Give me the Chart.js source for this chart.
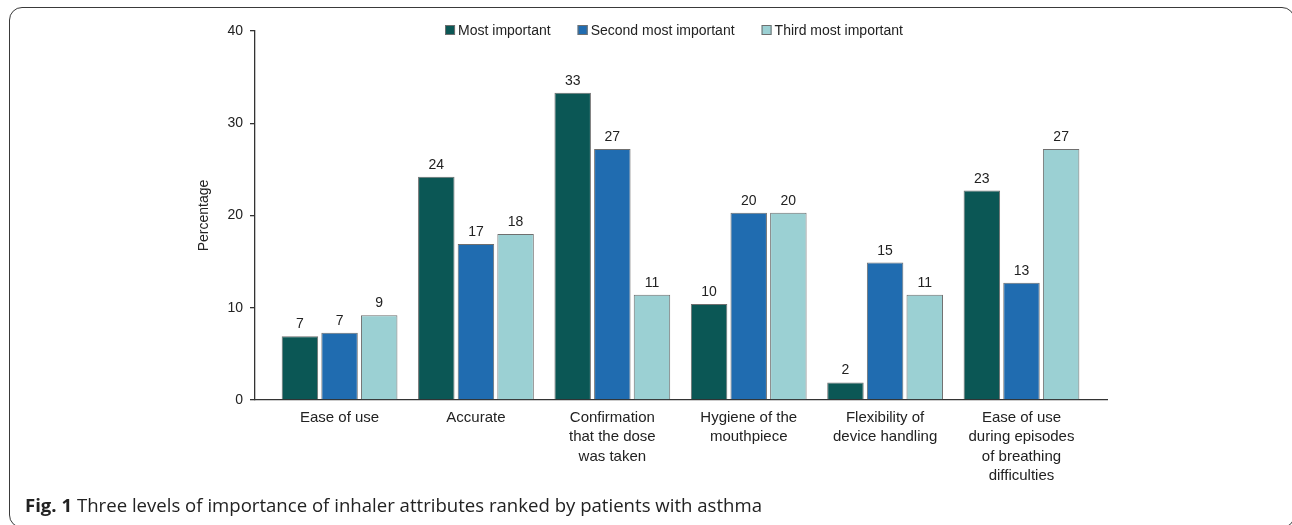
<!DOCTYPE html>
<html>
<head>
<meta charset="utf-8">
<title>Inhaler attributes</title>
<script src="https://cdn.jsdelivr.net/npm/chart.js@4"></script>
<style>
  html, body { margin: 0; padding: 0; background: #fff; }
  body { width: 1292px; height: 525px; position: relative; overflow: hidden; }
  .frame {
    position: absolute; left: 9px; top: 7px; width: 1286px; height: 521px;
    border: 1.5px solid #3a3a3a; border-radius: 13px; box-sizing: border-box;
  }
  #chart { position: absolute; left: 0; top: 0; }
  .caption {
    position: absolute; left: 25px; top: 493px;
    font-family: "Open Sans", sans-serif; font-size: 18px; color: #222;
    white-space: nowrap; transform-origin: left center;
  }
  .caption b { font-weight: 700; }
</style>
</head>
<body>
<div class="frame"></div>
<canvas id="chart" width="1292" height="495"></canvas>
<div class="caption"><b>Fig. 1</b> Three levels of importance of inhaler attributes ranked by patients with asthma</div>

<script>
// Категории (подписи оси X, по строкам)
const categories = [
  'Ease of use',
  'Accurate',
  ['Confirmation', 'that the dose', 'was taken'],
  ['Hygiene of the', 'mouthpiece'],
  ['Flexibility of', 'device handling'],
  ['Ease of use', 'during episodes', 'of breathing', 'difficulties']
];

const seriesNames = ['Most important', 'Second most important', 'Third most important'];
const seriesColors = ['#0b5755', '#206cb0', '#9bd0d3'];

// Значения, %
const mostImportant = [6.9, 24.2, 33.3, 10.4, 1.9, 22.7];
const secondImportant = [7.3, 16.9, 27.2, 20.3, 14.9, 12.7];
const thirdImportant = [9.2, 18.0, 11.4, 20.3, 11.4, 27.2];

const yTicks = [0, 10, 20, 30, 40];

Chart.defaults.font.family = '"Liberation Sans", Arial, sans-serif';
Chart.defaults.color = '#222';

/**
 * Подписи значений над столбцами
 */
const valueLabels = {
  id: 'valueLabels',
  afterDatasetsDraw(chart) {
    const ctx = chart.ctx;
    ctx.save();
    ctx.font = '14px "Liberation Sans", Arial, sans-serif';
    ctx.fillStyle = '#222';
    ctx.textAlign = 'center';
    ctx.textBaseline = 'alphabetic';
    chart.data.datasets.forEach(function(ds, di) {
      chart.getDatasetMeta(di).data.forEach(function(bar, i) {
        ctx.fillText(String(Math.round(ds.data[i].y)), bar.x, bar.y - 8);
      });
    });
    ctx.restore();
  }
};

/**
 * Легенда в одну строку над областью графика
 */
const topLegend = {
  id: 'topLegend',
  afterDraw(chart) {
    const ctx = chart.ctx;
    const box = 10, gap = 3, spacing = 27, cy = 30, cx = 674;
    ctx.save();
    ctx.font = '14px "Liberation Sans", Arial, sans-serif';
    const items = chart.data.datasets.map(function(ds) {
      return { text: ds.label, color: ds.backgroundColor, w: ctx.measureText(ds.label).width };
    });
    const total = items.reduce(function(s, it) { return s + box + gap + it.w; }, 0) + spacing * (items.length - 1);
    let x = cx - total / 2;
    ctx.textBaseline = 'middle';
    ctx.textAlign = 'left';
    items.forEach(function(it) {
      ctx.fillStyle = it.color;
      ctx.fillRect(x, cy - box / 2, box, box);
      ctx.strokeStyle = '#6f6f6f';
      ctx.lineWidth = 1;
      ctx.strokeRect(x + 0.5, cy - box / 2 + 0.5, box - 1, box - 1);
      ctx.fillStyle = '#222';
      ctx.fillText(it.text, x + box + gap, cy + 1);
      x += box + gap + it.w + spacing;
    });
    ctx.restore();
  }
};

const seriesValues = [mostImportant, secondImportant, thirdImportant];

new Chart(document.getElementById('chart'), {
  type: 'bar',
  data: {
    datasets: seriesValues.map(function(values, si) {
      return {
        label: seriesNames[si],
        data: values.map(function(v, i) { return { x: i, y: v }; }),
        backgroundColor: seriesColors[si]
      };
    })
  },
  options: {
    responsive: false,
    animation: false,
    layout: { padding: { left: 192, top: 31, right: 185, bottom: 5 } },
    plugins: {
      legend: { display: false },
      tooltip: { enabled: false }
    },
    datasets: {
      bar: {
        categoryPercentage: 0.872,
        barPercentage: 0.92,
        borderWidth: 1,
        borderColor: '#6f6f6f'
      }
    },
    scales: {
      x: {
        type: 'linear',
        min: -0.62,
        max: 5.627,
        offset: false,
        grid: { display: false },
        border: { display: true, color: '#333', width: 1.3 },
        afterBuildTicks: function(scale) {
          scale.ticks = categories.map(function(_, i) { return { value: i }; });
        },
        afterFit: function(scale) { scale.height = 90; },
        ticks: {
          autoSkip: false,
          maxRotation: 0,
          padding: 0,
          font: { size: 15, lineHeight: 1.3 },
          color: '#222',
          callback: function(value) { return categories[value]; }
        }
      },
      y: {
        min: 0,
        max: 40,
        afterBuildTicks: function(scale) {
          scale.ticks = yTicks.map(function(v) { return { value: v }; });
        },
        afterFit: function(scale) { scale.width = 63; },
        grid: { drawOnChartArea: false, tickLength: 5, color: '#333', lineWidth: 1.3 },
        border: { color: '#333', width: 1.3 },
        ticks: { padding: 7, font: { size: 14 }, color: '#222' },
        title: {
          display: true,
          text: 'Percentage',
          font: { size: 14 },
          color: '#222',
          padding: { top: 4, bottom: 4 }
        }
      }
    }
  },
  plugins: [valueLabels, topLegend]
});

// Подгонка ширины подписи рисунка
const caption = document.querySelector('.caption');
const capWidth = caption.getBoundingClientRect().width;
caption.style.transform = 'scaleX(' + (737 / capWidth) + ')';
</script>
</body>
</html>
